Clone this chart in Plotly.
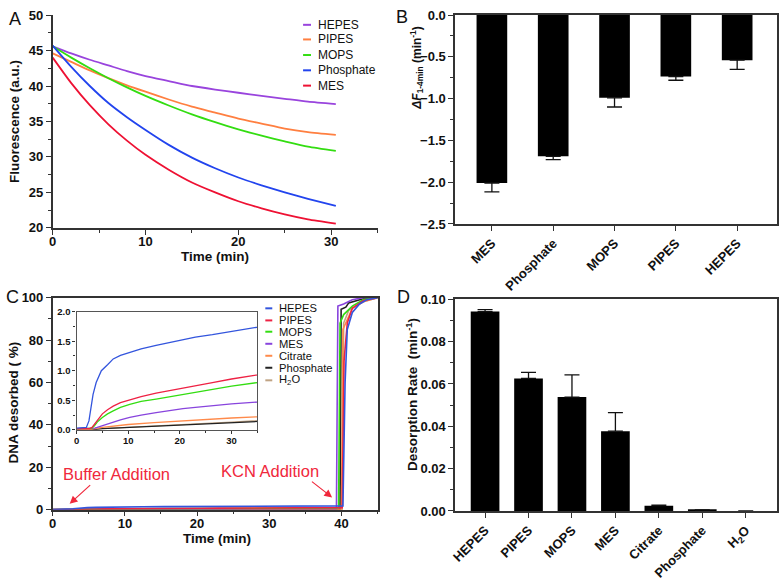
import plotly.graph_objects as go

W, H = 780, 582
FONT = "Liberation Sans, Arial, Helvetica, sans-serif"
AX = "#333333"

# ---------------- Panel A data ----------------
a_time = [0, 2, 4, 6, 8, 10, 12.5, 15, 17.5, 20, 22.5, 25, 27.5, 30.5]
a_hepes = [45.6, 44.6, 43.7, 42.9, 42.1, 41.4, 40.7, 40.0, 39.5, 39.05, 38.6, 38.2, 37.8, 37.45]
a_pipes = [44.6, 43.4, 42.2, 41.1, 40.1, 39.2, 38.1, 37.1, 36.25, 35.4, 34.7, 34.0, 33.5, 33.1]
a_mops = [45.6, 44.0, 42.5, 41.1, 39.8, 38.6, 37.25, 36.0, 34.9, 33.9, 33.0, 32.2, 31.45, 30.85]
a_phos = [45.7, 42.7, 40.0, 37.6, 35.6, 33.8, 31.7, 29.9, 28.4, 27.1, 26.0, 25.0, 24.1, 23.1]
a_mes = [44.0, 40.4, 37.3, 34.6, 32.3, 30.3, 28.2, 26.4, 25.0, 23.75, 22.75, 21.9, 21.2, 20.6]
a_names = ["HEPES", "PIPES", "MOPS", "Phosphate", "MES"]
a_series = [a_hepes, a_pipes, a_mops, a_phos, a_mes]
a_colors = ["#9944dd", "#ff7f40", "#33dd11", "#2244ee", "#ee1133"]

# ---------------- Panel B data ----------------
b_cats = ["MES", "Phosphate", "MOPS", "PIPES", "HEPES"]
b_vals = [-2.01, -1.69, -0.99, -0.735, -0.54]
b_err = [0.105, 0.04, 0.11, 0.045, 0.11]

# ---------------- Panel C data ----------------
c_names = ["HEPES", "PIPES", "MOPS", "MES", "Citrate", "Phosphate", "H<sub>2</sub>O"]
c_colors = ["#3355dd", "#ee2244", "#33dd11", "#8844dd", "#ff8a4a", "#222222", "#c0a383"]
c_hepes_t = [0, 1.9, 2.4, 2.8, 3.2, 3.8, 4.8, 6, 7.1, 8.5, 10.3, 12.5, 15.4, 18, 20.6, 23, 26.3, 30, 35, 38, 40.2, 40.5, 40.8, 41.5, 42.5, 43.5, 45]
c_hepes_v = [0.03, 0.04, 0.15, 0.4, 0.6, 0.8, 1.0, 1.1, 1.2, 1.26, 1.31, 1.37, 1.43, 1.48, 1.53, 1.57, 1.61, 1.67, 1.74, 1.78, 1.8, 60, 85, 93, 97, 99, 100]
c_pipes_t = [0, 2.5, 3.0, 3.5, 4, 5, 6, 7.1, 8.5, 10.3, 12.5, 15.4, 18, 20.6, 23, 26.3, 30, 35, 38, 40.1, 40.35, 40.8, 41.5, 43, 45]
c_pipes_v = [0.02, 0.02, 0.04, 0.1, 0.17, 0.27, 0.34, 0.4, 0.46, 0.51, 0.56, 0.62, 0.66, 0.7, 0.74, 0.8, 0.86, 0.93, 0.97, 1.0, 70, 88, 95, 98.5, 100]
c_mops_t = [0, 2.6, 3.0, 3.5, 4, 5, 6, 7.1, 8.5, 10.3, 12.5, 15.4, 18, 20.6, 23, 26.3, 30, 35, 38, 39.6, 39.8, 40.3, 41.5, 43, 45]
c_mops_v = [0.02, 0.02, 0.03, 0.07, 0.13, 0.21, 0.27, 0.32, 0.38, 0.43, 0.48, 0.52, 0.56, 0.6, 0.64, 0.69, 0.74, 0.8, 0.84, 0.86, 88, 92, 96, 99, 100]
c_mes_t = [0, 2.8, 3.5, 4, 5, 6, 7.1, 8.5, 10.3, 12.5, 15.4, 18, 20.6, 23, 26.3, 30, 35, 39.3, 39.5, 40.3, 41.5, 43, 45]
c_mes_v = [0.02, 0.02, 0.03, 0.04, 0.07, 0.1, 0.13, 0.17, 0.21, 0.25, 0.29, 0.33, 0.36, 0.38, 0.41, 0.44, 0.47, 0.5, 96, 97, 99, 100, 100]
c_cit_t = [0, 3, 5, 10, 15, 20, 25, 30, 35, 40.0, 40.2, 40.8, 41.5, 43, 45]
c_cit_v = [0.0, 0.01, 0.04, 0.09, 0.12, 0.15, 0.18, 0.2, 0.22, 0.25, 85, 90, 95, 98, 100]
c_phos_t = [0, 3, 5, 10, 15, 20, 25, 30, 35, 39.8, 39.95, 40.6, 41, 43, 45]
c_phos_v = [0.0, 0.0, 0.02, 0.04, 0.06, 0.08, 0.1, 0.12, 0.14, 0.16, 94.5, 95.5, 97.5, 99.5, 100]
c_h2o_t = [0, 3, 5, 10, 15, 20, 25, 30, 35, 40.1, 40.3, 41, 43, 45]
c_h2o_v = [0.0, 0.0, 0.02, 0.045, 0.07, 0.09, 0.11, 0.13, 0.16, 0.18, 88, 94, 98, 100]
c_t = [c_hepes_t, c_pipes_t, c_mops_t, c_mes_t, c_cit_t, c_phos_t, c_h2o_t]
c_v = [c_hepes_v, c_pipes_v, c_mops_v, c_mes_v, c_cit_v, c_phos_v, c_h2o_v]

# ---------------- Panel D data ----------------
d_cats = ["HEPES", "PIPES", "MOPS", "MES", "Citrate", "Phosphate", "H<sub>2</sub>O"]
d_vals = [0.0942, 0.0626, 0.0538, 0.0377, 0.0025, 0.0005, 0.0]
d_err = [0.0009, 0.0029, 0.0105, 0.0088, 0.0003, 0.0, 0.0]


def px(x):
    return x / W


def py(y):
    return 1 - y / H


fig = go.Figure()

# Panel A
for name, vals, col in zip(a_names, a_series, a_colors):
    fig.add_trace(go.Scatter(x=a_time, y=vals, mode="lines", name=name,
                             line=dict(color=col, width=1.8, shape="spline", smoothing=0.6),
                             xaxis="x", yaxis="y", showlegend=False))

# Panel B
fig.add_trace(go.Bar(x=b_cats, y=b_vals, marker=dict(color="black", line=dict(width=0)),
                     width=0.5, xaxis="x2", yaxis="y2", showlegend=False,
                     error_y=dict(type="data", symmetric=False, array=[0] * len(b_err),
                                  arrayminus=b_err, color="#111", thickness=1.3, width=7.5)))

# Panel C main + inset (same data)
order = [6, 5, 4, 3, 2, 1, 0]
for i in order:
    fig.add_trace(go.Scatter(x=c_t[i], y=c_v[i], mode="lines", name=c_names[i],
                             line=dict(color=c_colors[i], width=1.6),
                             xaxis="x3", yaxis="y3", showlegend=False))
for i in order:
    fig.add_trace(go.Scatter(x=c_t[i], y=c_v[i], mode="lines", name=c_names[i],
                             line=dict(color=c_colors[i], width=1.3),
                             xaxis="x4", yaxis="y4", showlegend=False))

# Panel D
fig.add_trace(go.Bar(x=d_cats, y=d_vals, marker=dict(color="black", line=dict(width=0)),
                     width=0.66, xaxis="x5", yaxis="y5", showlegend=False,
                     error_y=dict(type="data", symmetric=False, array=d_err,
                                  arrayminus=[0] * len(d_err), color="#111", thickness=1.3, width=7.5)))

tickfont = dict(family=FONT, size=13, color="#111", weight="bold")
smallfont = dict(family=FONT, size=9.5, color="#111", weight="bold")


def lin_axis(domain, rng, dtick, minor_dtick, anchor, mirror=False, fmt=None, tf=tickfont, tl=5, so=0):
    d = dict(domain=domain, range=rng, tickmode="linear", tick0=0, dtick=dtick,
             ticks="outside", ticklen=tl, tickwidth=1.3, tickcolor=AX,
             showline=True, linecolor=AX, linewidth=1.5, mirror=mirror,
             showgrid=False, zeroline=False, anchor=anchor, tickfont=tf,
             ticklabelstandoff=so,
             minor=dict(ticks="outside", ticklen=max(2, tl - 2), dtick=minor_dtick, tickwidth=1.1,
                        tickcolor=AX, showgrid=False),
             layer="above traces")
    if fmt:
        d["tickformat"] = fmt
    return d


def cat_axis(domain, rng, anchor):
    return dict(domain=domain, range=rng, type="category", ticks="outside", ticklen=5,
                tickwidth=1.3, tickcolor=AX, showline=True, linecolor=AX, linewidth=1.5,
                mirror=True, showgrid=False, zeroline=False, anchor=anchor,
                tickangle=-45, tickfont=tickfont)


xa = [px(48), px(375)]
xb = [px(453), px(777)]

fig.update_layout(
    width=W, height=H, margin=dict(l=0, r=0, t=0, b=0),
    paper_bgcolor="white", plot_bgcolor="white",
    font=dict(family=FONT, size=12, color="#111"),
    xaxis=lin_axis(xa, [0, 35], 10, 5, "y", so=-4),
    yaxis=lin_axis([py(226.7), py(8.3)], [20, 50], 5, 2.5, "x"),
    xaxis2=cat_axis(xb, [-0.6, 4.65], "y2"),
    yaxis2=lin_axis([py(222.7), py(8.3)], [-2.5, 0], 0.5, 0.25, "x2", mirror=True, fmt=".1f"),
    xaxis3=lin_axis(xa, [0, 45], 10, 5, "y3", mirror=True, so=-4),
    yaxis3=lin_axis([py(516), py(298.3)], [0, 100], 20, 10, "x3", mirror=True),
    xaxis4=lin_axis([px(72), px(254)], [0, 35], 10, 5, "y4", mirror=True, tf=smallfont, tl=3, so=-1),
    yaxis4=lin_axis([py(434), py(312.7)], [0, 2], 0.5, 0.25, "x4", mirror=True, fmt=".1f", tf=smallfont, tl=3),
    xaxis5=cat_axis(xb, [-0.69, 6.72], "y5"),
    yaxis5=lin_axis([py(517.3), py(300)], [0, 0.1], 0.02, 0.01, "x5", mirror=True, fmt=".2f"),
)
fig.update_layout(xaxis4=dict(linecolor="#555", linewidth=1.2), yaxis4=dict(linecolor="#555", linewidth=1.2))

ann = []
shapes = []


def text(x, y, s, size=13.5, bold=True, angle=0, color="#111", xanchor="center"):
    ann.append(dict(x=px(x), y=py(y), xref="paper", yref="paper", text=s, showarrow=False,
                    textangle=angle, xanchor=xanchor, yanchor="middle",
                    font=dict(family=FONT, size=size, color=color, weight="bold" if bold else "normal")))


# panel letters
text(10, 12.5, "A", size=18, bold=False)
text(400, 10, "B", size=18, bold=False)
text(8, 298, "C", size=18, bold=False)
text(401, 298, "D", size=18, bold=False)

# axis titles
text(10, 117, "Fluorescence (a.u.)", angle=-90)
text(211, 256, "Time (min)")
text(415, 62, "<i>ΔF</i><sub>1-4min</sub> (min<sup>-1</sup>)", size=12, angle=-90)
text(9, 406, "DNA desorbed ( %)", angle=-90)
text(213, 546, "Time (min)")
text(409, 398, "Desorption Rate  (min<sup>-1</sup>)", angle=-90)

# manual legends
a_rows = [18.3, 33.3, 49.3, 65, 80.7]
for name, col, yy in zip(a_names, a_colors, a_rows):
    shapes.append(dict(type="line", xref="paper", yref="paper", x0=px(300), x1=px(308),
                       y0=py(yy), y1=py(yy), line=dict(color=col, width=2)))
    text(313, yy, name, size=12, bold=False, xanchor="left")
c_rows = [309.3, 321.7, 333.3, 345.7, 358, 370.3, 383.2]
for name, col, yy in zip(c_names, c_colors, c_rows):
    shapes.append(dict(type="line", xref="paper", yref="paper", x0=px(262), x1=px(269),
                       y0=py(yy), y1=py(yy), line=dict(color=col, width=2)))
    text(274, yy, name, size=11.2, bold=False, xanchor="left")

# arrows in C
RED = "#f0283c"
ann.append(dict(x=2.35, y=2.8, ax=5.4, ay=12.2, xref="x3", yref="y3", axref="x3", ayref="y3",
                showarrow=True, arrowhead=2, arrowsize=1.3, arrowwidth=1.2, arrowcolor=RED, text=""))
ann.append(dict(x=38.7, y=5.8, ax=35.7, ay=13.8, xref="x3", yref="y3", axref="x3", ayref="y3",
                showarrow=True, arrowhead=2, arrowsize=1.3, arrowwidth=1.2, arrowcolor=RED, text=""))
text(112, 479, "Buffer Addition", size=16.5, bold=False, color=RED)
text(267, 476, "KCN Addition", size=16.5, bold=False, color=RED)

fig.update_layout(annotations=ann, shapes=shapes)
fig.write_html("out.html", config={"displayModeBar": False},
               post_script="document.body.style.margin='0';document.body.style.overflow='hidden';")
